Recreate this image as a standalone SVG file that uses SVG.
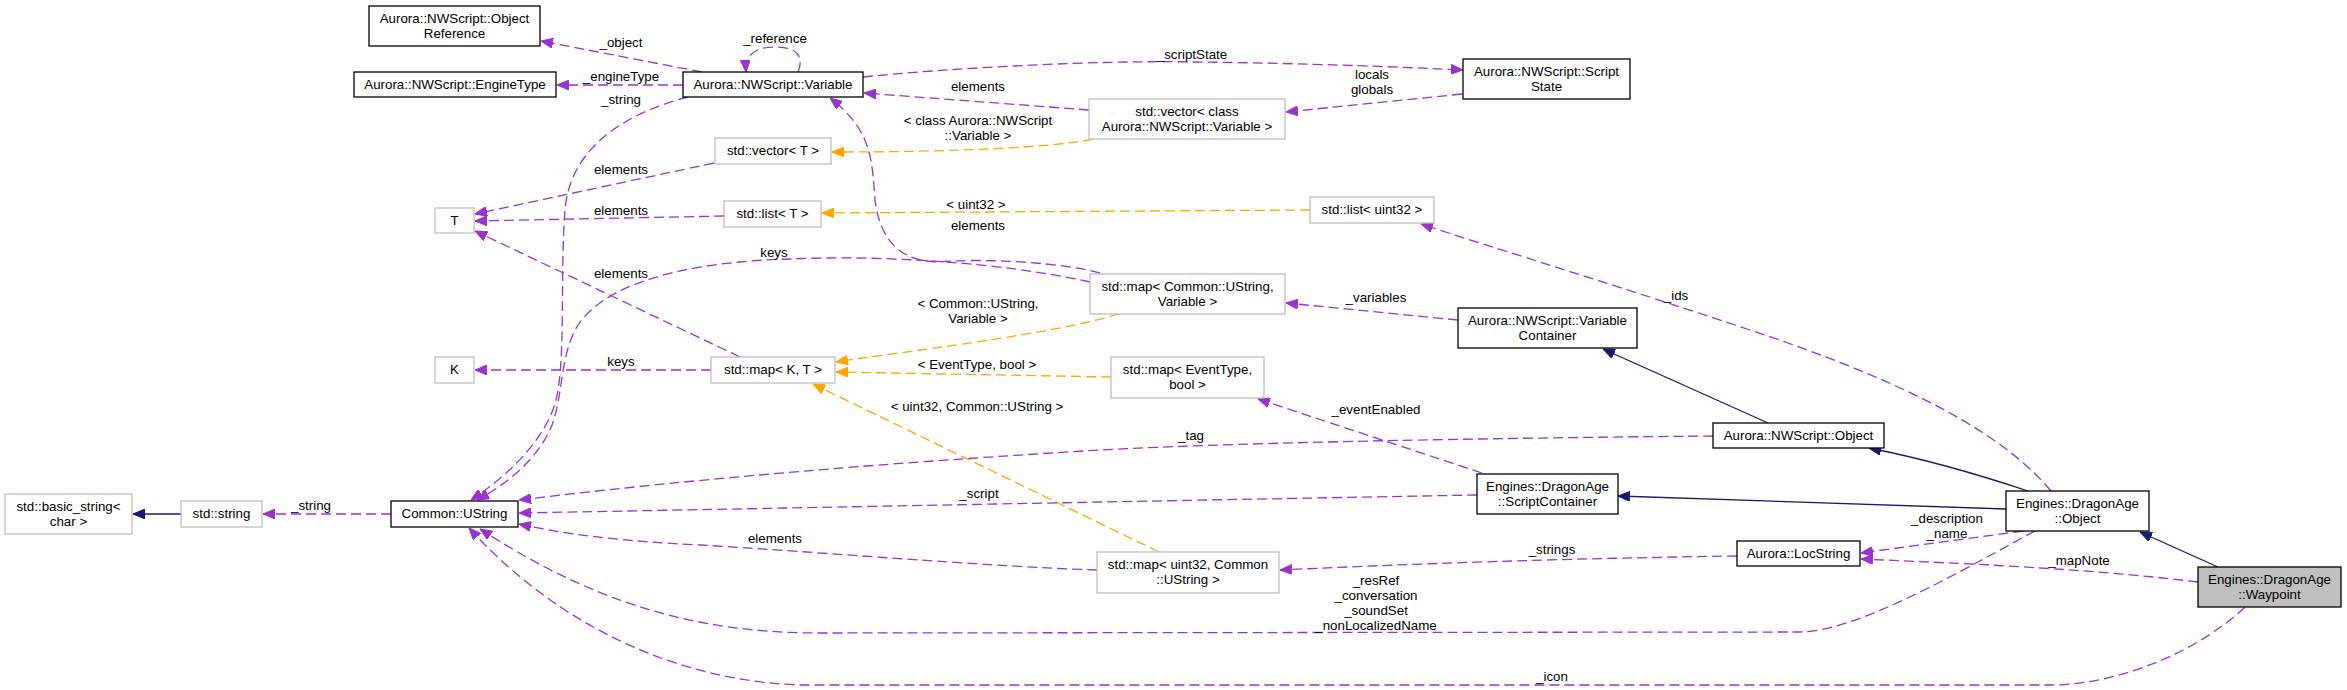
<svg xmlns="http://www.w3.org/2000/svg" width="2347" height="690" viewBox="0 0 2347 690">
<style>
text{font-family:"Liberation Sans",Arial,sans-serif;font-size:13.33px;fill:#000;text-anchor:middle}
.doc{fill:#fff;stroke:#000;stroke-width:1.3}
.und{fill:#fff;stroke:#bfbfbf;stroke-width:1.3}
.cur{fill:#bfbfbf;stroke:#000;stroke-width:1.3}
.u{fill:none;stroke:#9a32cd;stroke-width:1.3;stroke-dasharray:10,5;marker-end:url(#ap)}
.t{fill:none;stroke:#ffa500;stroke-width:1.3;stroke-dasharray:10,5;marker-end:url(#ao)}
.i{fill:none;stroke:#191970;stroke-width:1.3;marker-end:url(#an)}
</style>
<defs>
<marker id="ap" markerUnits="userSpaceOnUse" markerWidth="12" markerHeight="10" viewBox="0 0 12 10" refX="12" refY="5" orient="auto"><path d="M0,0 L12,5 L0,10 z" fill="#9a32cd" stroke="#9a32cd"/></marker>
<marker id="ao" markerUnits="userSpaceOnUse" markerWidth="12" markerHeight="10" viewBox="0 0 12 10" refX="12" refY="5" orient="auto"><path d="M0,0 L12,5 L0,10 z" fill="#ffa500" stroke="#ffa500"/></marker>
<marker id="an" markerUnits="userSpaceOnUse" markerWidth="12" markerHeight="10" viewBox="0 0 12 10" refX="12" refY="5" orient="auto"><path d="M0,0 L12,5 L0,10 z" fill="#191970" stroke="#191970"/></marker>
</defs>
<rect width="2347" height="690" fill="#fff"/>
<g id="connectors">
<path class="u" d="M702,72 L541,41"/>
<path class="u" d="M683,85 L557,85"/>
<path class="u" d="M688,97 C620,115 570,150 565,210 C560,270 566,360 556,400 C546,440 505,478 471,500"/>
<path class="u" d="M1090,282 C1000,262 880,255 790,259 C680,262 600,285 575,330 C560,360 563,395 552,425 C538,460 505,485 477,500"/>
<path class="u" d="M714,163 L475,214"/>
<path class="u" d="M724,216 L475,221"/>
<path class="u" d="M740,357 L475,231"/>
<path class="u" d="M711,370 L475,370"/>
<path class="t" d="M1119,314 C1050,335 900,352 836,362"/>
<path class="t" d="M1111,377 L836,372"/>
<path class="t" d="M1159,552 L813,384"/>
<path class="t" d="M1093,139 C1050,148 950,152 832,152"/>
<path class="t" d="M1310,210 L822,213"/>
<path class="u" d="M1089,110 L864,93"/>
<path class="u" d="M1462,94 L1286,112"/>
<path class="u" d="M863,77 C950,68 1100,60 1194,62 C1300,63 1400,67 1463,70"/>
<path class="u" d="M798,72 C805,55 795,47 775,47 C755,47 745,55 746,72"/>
<path class="u" d="M1100,273 C1060,262 980,258 940,262 C900,262 880,240 875,200 C872,160 872,130 830,98"/>
<path class="u" d="M1097,570 C980,566 820,552 700,545 C620,541 570,535 519,524"/>
<path class="u" d="M1713,436 C1500,438 1250,442 1100,450 C900,462 700,478 519,500"/>
<path class="u" d="M1477,495 C1200,500 900,506 519,513"/>
<path class="u" d="M1482,473 L1258,399"/>
<path class="u" d="M1458,320 L1286,303"/>
<path class="u" d="M2051,491 C2000,430 1900,380 1750,330 C1600,280 1500,250 1421,224"/>
<path class="u" d="M2023,531 L1861,553"/>
<path class="u" d="M2198,582 C2100,570 2000,565 1861,559"/>
<path class="u" d="M1737,556 C1600,558 1450,562 1280,570"/>
<path class="u" d="M2035,531 C1980,560 1860,632 1800,632 L820,633 C690,633 590,600 480,529"/>
<path class="u" d="M2245,607 C2200,650 2120,685 2050,685 L800,685 C660,680 545,612 469,528"/>
<path class="u" d="M391,514 L263,514"/>
<path class="i" d="M181,514 L133,514"/>
<path class="i" d="M1768,423 L1603,349"/>
<path class="i" d="M2028,491 C1980,475 1930,460 1869,448"/>
<path class="i" d="M2006,509 L1618,496"/>
<path class="i" d="M2218,567 L2140,532"/>
<text x="621" y="47">_object</text>
<text x="621" y="81">_engineType</text>
<text x="621" y="104">_string</text>
<text x="775" y="43">_reference</text>
<text x="1192" y="59">_scriptState</text>
<text x="1372" y="79">locals</text>
<text x="1372" y="94">globals</text>
<text x="978" y="91">elements</text>
<text x="978" y="125">&lt; class Aurora::NWScript</text>
<text x="978" y="140">::Variable &gt;</text>
<text x="621" y="174">elements</text>
<text x="976" y="209">&lt; uint32 &gt;</text>
<text x="621" y="215">elements</text>
<text x="978" y="230">elements</text>
<text x="774" y="257">keys</text>
<text x="621" y="278">elements</text>
<text x="1676" y="300">_ids</text>
<text x="1376" y="302">_variables</text>
<text x="978" y="308">&lt; Common::UString,</text>
<text x="978" y="323">Variable &gt;</text>
<text x="621" y="366">keys</text>
<text x="977" y="369">&lt; EventType, bool &gt;</text>
<text x="977" y="411">&lt; uint32, Common::UString &gt;</text>
<text x="1376" y="414">_eventEnabled</text>
<text x="1191" y="440">_tag</text>
<text x="979" y="498">_script</text>
<text x="311" y="510">_string</text>
<text x="775" y="543">elements</text>
<text x="1552" y="554">_strings</text>
<text x="1947" y="523">_description</text>
<text x="1947" y="538">_name</text>
<text x="2079" y="565">_mapNote</text>
<text x="1376" y="585">_resRef</text>
<text x="1376" y="600">_conversation</text>
<text x="1376" y="615">_soundSet</text>
<text x="1376" y="630">_nonLocalizedName</text>
<text x="1552" y="681">_icon</text>
</g>
<g id="n_objref"><rect class="doc" x="369" y="6" width="171" height="40"/><text x="454.5" y="23">Aurora::NWScript::Object</text><text x="454.5" y="38">Reference</text></g>
<g id="n_enginetype"><rect class="doc" x="354" y="72" width="202" height="25"/><text x="455" y="89">Aurora::NWScript::EngineType</text></g>
<g id="n_variable"><rect class="doc" x="683" y="72" width="180" height="25"/><text x="773" y="89">Aurora::NWScript::Variable</text></g>
<g id="n_scriptstate"><rect class="doc" x="1463" y="59" width="167" height="40"/><text x="1546.5" y="76">Aurora::NWScript::Script</text><text x="1546.5" y="91">State</text></g>
<g id="n_vecvar"><rect class="und" x="1089" y="99" width="196" height="40"/><text x="1187" y="116">std::vector&lt; class</text><text x="1187" y="131">Aurora::NWScript::Variable &gt;</text></g>
<g id="n_vect"><rect class="und" x="715" y="138" width="116" height="26"/><text x="773" y="155">std::vector&lt; T &gt;</text></g>
<g id="n_t"><rect class="und" x="435" y="208" width="39" height="25"/><text x="454.5" y="225">T</text></g>
<g id="n_listt"><rect class="und" x="724" y="201" width="97" height="26"/><text x="772.5" y="218">std::list&lt; T &gt;</text></g>
<g id="n_listuint"><rect class="und" x="1310" y="197" width="124" height="26"/><text x="1372" y="214">std::list&lt; uint32 &gt;</text></g>
<g id="n_mapvar"><rect class="und" x="1090" y="274" width="195" height="40"/><text x="1187.5" y="291">std::map&lt; Common::UString,</text><text x="1187.5" y="306">Variable &gt;</text></g>
<g id="n_varcontainer"><rect class="doc" x="1458" y="308" width="179" height="40"/><text x="1547.5" y="325">Aurora::NWScript::Variable</text><text x="1547.5" y="340">Container</text></g>
<g id="n_k"><rect class="und" x="435" y="357" width="39" height="26"/><text x="454.5" y="374">K</text></g>
<g id="n_mapkt"><rect class="und" x="711" y="357" width="124" height="26"/><text x="773" y="374">std::map&lt; K, T &gt;</text></g>
<g id="n_mapevent"><rect class="und" x="1111" y="357" width="153" height="41"/><text x="1187.5" y="374">std::map&lt; EventType,</text><text x="1187.5" y="389">bool &gt;</text></g>
<g id="n_nwobject"><rect class="doc" x="1713" y="423" width="171" height="25"/><text x="1798.5" y="440">Aurora::NWScript::Object</text></g>
<g id="n_scriptcontainer"><rect class="doc" x="1477" y="474" width="141" height="40"/><text x="1547.5" y="491">Engines::DragonAge</text><text x="1547.5" y="506">::ScriptContainer</text></g>
<g id="n_object"><rect class="doc" x="2006" y="491" width="143" height="40"/><text x="2077.5" y="508">Engines::DragonAge</text><text x="2077.5" y="523">::Object</text></g>
<g id="n_basicstring"><rect class="und" x="5" y="494" width="127" height="40"/><text x="68.5" y="511">std::basic_string&lt;</text><text x="68.5" y="526">char &gt;</text></g>
<g id="n_stdstring"><rect class="und" x="181" y="501" width="81" height="26"/><text x="221.5" y="518">std::string</text></g>
<g id="n_ustring"><rect class="doc" x="391" y="501" width="127" height="26"/><text x="454.5" y="518">Common::UString</text></g>
<g id="n_locstring"><rect class="doc" x="1737" y="541" width="123" height="25"/><text x="1798.5" y="558">Aurora::LocString</text></g>
<g id="n_mapuint"><rect class="und" x="1097" y="552" width="182" height="41"/><text x="1188" y="569">std::map&lt; uint32, Common</text><text x="1188" y="584">::UString &gt;</text></g>
<g id="n_waypoint"><rect class="cur" x="2198" y="567" width="143" height="40"/><text x="2269.5" y="584">Engines::DragonAge</text><text x="2269.5" y="599">::Waypoint</text></g>
</svg>
